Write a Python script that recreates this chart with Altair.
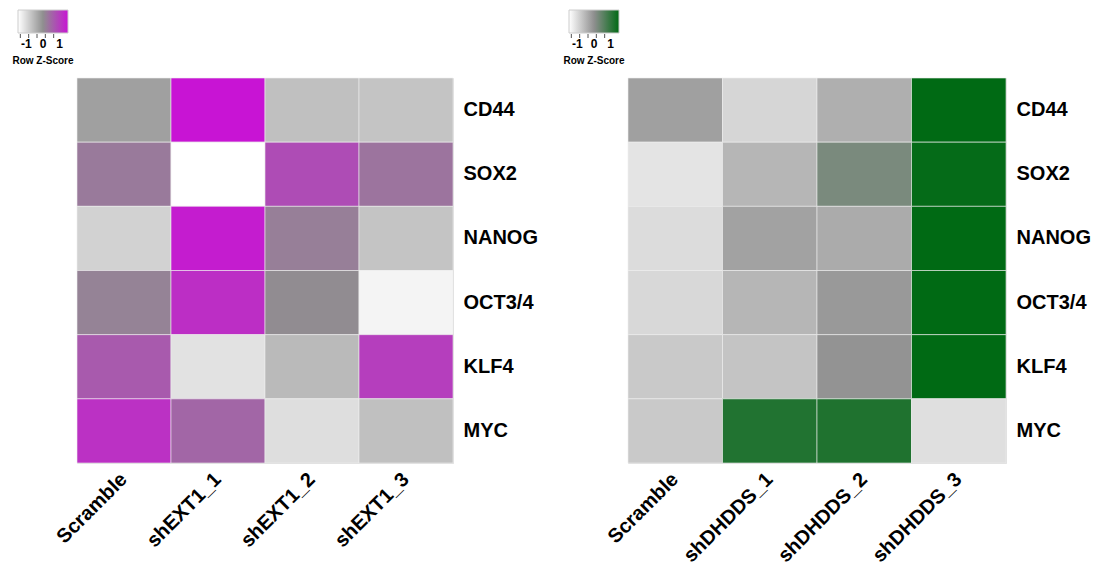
import altair as alt
import pandas as pd

genes = ["CD44", "SOX2", "NANOG", "OCT3/4", "KLF4", "MYC"]
ext1_samples = ["Scramble", "shEXT1_1", "shEXT1_2", "shEXT1_3"]
dhdds_samples = ["Scramble", "shDHDDS_1", "shDHDDS_2", "shDHDDS_3"]

# Row z-scores, one row per gene, one column per sample
ext1_z = [
    [-0.23, 1.50, -0.66, -0.71],   # CD44
    [0.26, -1.50, 0.82, 0.33],     # SOX2
    [-0.90, 1.40, 0.20, -0.71],    # NANOG
    [0.15, 1.18, 0.04, -1.35],     # OCT3/4
    [0.65, -1.11, -0.58, 0.99],    # KLF4
    [1.15, 0.50, -1.06, -0.66],    # MYC
]
dhdds_z = [
    [-0.23, -0.95, -0.43, 1.50],   # CD44
    [-1.14, -0.52, 0.22, 1.45],    # SOX2
    [-1.03, -0.25, -0.38, 1.50],   # NANOG
    [-0.98, -0.52, -0.13, 1.50],   # OCT3/4
    [-0.78, -0.71, -0.05, 1.50],   # KLF4
    [-0.78, 1.15, 1.17, -1.07],    # MYC
]
legend_ticks = [-1, -0.5, 0, 0.5, 1]

FONT = "Liberation Sans"
Z_MIN, Z_MAX = -1.5, 1.5
KEY_X = -65  # colour key offset from the heatmap's left edge


def heatmap(samples, z, high_color, width):
    df = pd.DataFrame(
        [
            {"gene": g, "sample": s, "z": z[i][j]}
            for i, g in enumerate(genes)
            for j, s in enumerate(samples)
        ]
    )
    cells = alt.Chart(df).mark_rect(stroke="#eeeeee", strokeWidth=0.6).encode(
        x=alt.X(
            "sample:N",
            sort=samples,
            title=None,
            axis=alt.Axis(
                labelAngle=-45,
                labelAlign="right",
                labelBaseline="middle",
                labelFont=FONT,
                labelFontSize=20,
                labelFontWeight="bold",
                labelColor="black",
                labelPadding=13,
                ticks=False,
                domain=False,
            ),
        ),
        y=alt.Y(
            "gene:N",
            sort=genes,
            title=None,
            axis=alt.Axis(
                orient="right",
                labelFont=FONT,
                labelFontSize=20,
                labelFontWeight="bold",
                labelColor="black",
                labelPadding=10,
                ticks=False,
                domain=False,
            ),
        ),
        color=alt.Color(
            "z:Q",
            scale=alt.Scale(
                domain=[Z_MIN, 0, Z_MAX],
                range=["#ffffff", "#8f8f8f", high_color],
                interpolate="rgb",
            ),
            legend=alt.Legend(
                orient="none",
                legendX=KEY_X,
                legendY=-68,
                direction="horizontal",
                gradientLength=50,
                gradientThickness=23,
                gradientStrokeColor="#cccccc",
                gradientStrokeWidth=1,
                values=[-1, 0, 1],
                labelExpr="datum.value < 0 ? '-' + abs(datum.value) : '' + datum.value",
                title="Row Z-Score",
                titleOrient="bottom",
                titleAnchor="middle",
                titleFont=FONT,
                titleFontSize=10,
                titleFontWeight="bold",
                titleColor="black",
                titlePadding=6,
                labelFont=FONT,
                labelFontSize=12,
                labelFontWeight="bold",
                labelColor="black",
                labelOffset=6,
            ),
        ),
    )
    # small tick marks under the colour key
    ticks = alt.Chart(pd.DataFrame({"v": legend_ticks})).mark_rule(
        color="#555555", strokeWidth=1
    ).encode(
        x=alt.X(
            "v:Q",
            scale=alt.Scale(domain=[Z_MIN, Z_MAX], range=[KEY_X, KEY_X + 50]),
            axis=None,
        ),
        y=alt.value(-44),
        y2=alt.value(-40),
    )
    return (
        alt.layer(cells, ticks)
        .resolve_scale(x="independent")
        .properties(width=width, height=385)
    )


left = heatmap(ext1_samples, ext1_z, "#c814d4", 376)
right = heatmap(dhdds_samples, dhdds_z, "#006a14", 378)

chart = (
    alt.hconcat(left, right, spacing=175, bounds="flush")
    .resolve_scale(color="independent")
    .resolve_legend(color="independent")
    .properties(padding={"left": 11, "top": 9, "right": 5, "bottom": 5})
    .configure_view(stroke=None)
    .configure(background="white")
)

chart.save("out.html", embed_options={"renderer": "svg", "actions": False})
